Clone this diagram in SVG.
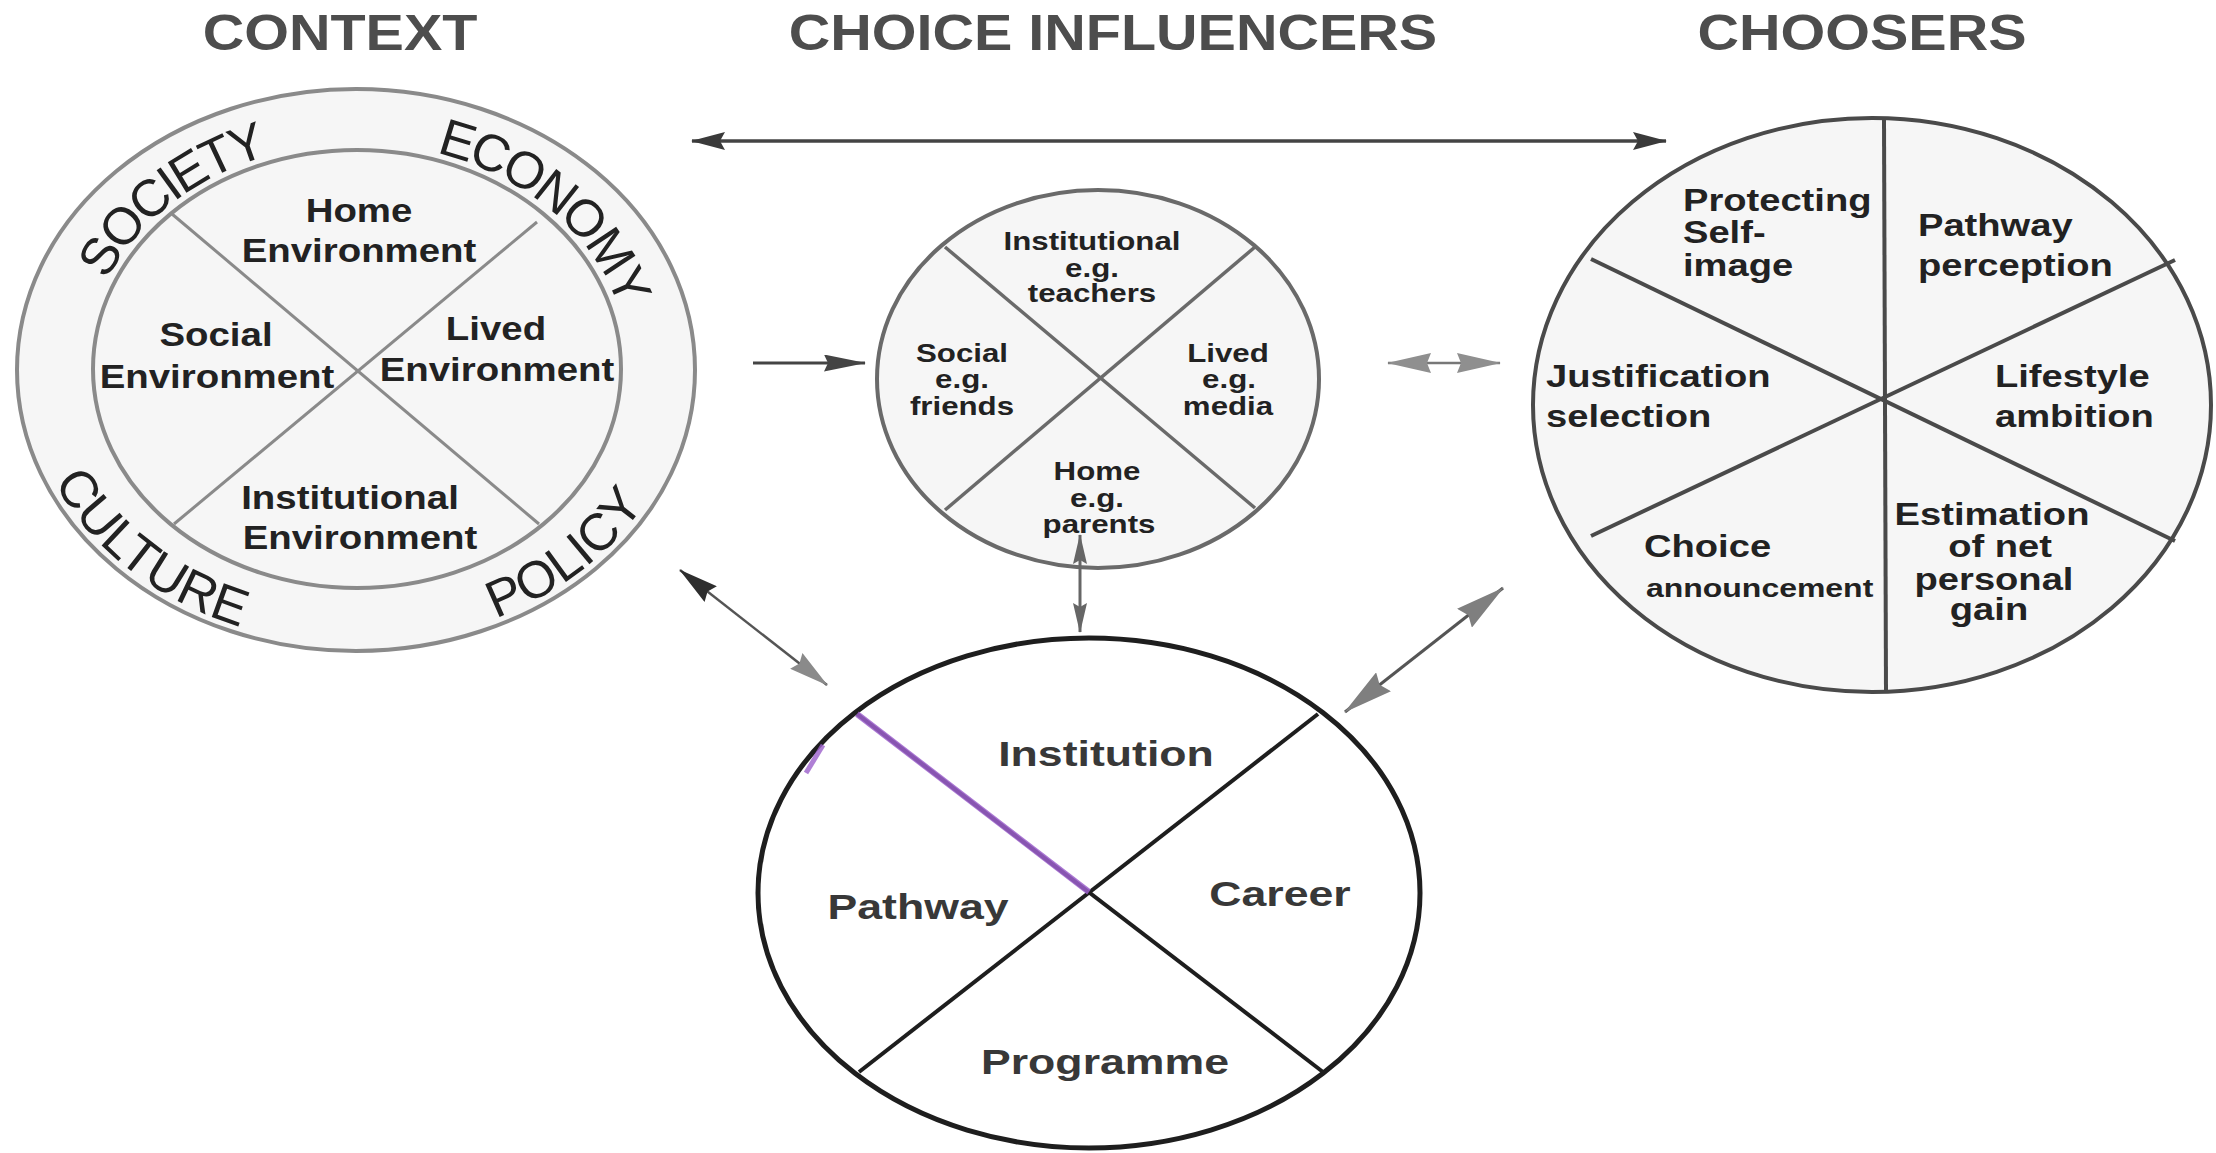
<svg xmlns="http://www.w3.org/2000/svg" width="2216" height="1153" viewBox="0 0 2216 1153">
<style>
text{font-family:"Liberation Sans",Arial,sans-serif;font-weight:bold;}
.ttl{font-size:50px;fill:#4d4d4d;text-anchor:middle;}
.cx{font-size:34px;fill:#222;text-anchor:middle;}
.ring{font-size:52px;font-weight:normal;fill:#222;}
.rtop{letter-spacing:-3px;}
.mi{font-size:25px;fill:#222;text-anchor:middle;}
.ch{font-size:31px;fill:#222;}
.chm{font-size:31px;fill:#222;text-anchor:middle;}
.lo{font-size:36px;fill:#383838;text-anchor:middle;}
.cline{stroke:#8a8a8a;stroke-width:3;fill:none;}
.mline{stroke:#6a6a6a;stroke-width:3.5;fill:none;}
.hline{stroke:#4a4a4a;stroke-width:4;fill:none;}
.lline{stroke:#1e1e1e;stroke-width:4;fill:none;}
.conn{fill:none;}
</style>
<defs>
<marker id="ad" markerUnits="userSpaceOnUse" viewBox="0 0 34 18" markerWidth="34" markerHeight="18" refX="33" refY="9" orient="auto-start-reverse"><path d="M0,0 L34,9 L0,18 L5,9 z" fill="#3a3a3a"/></marker>
<marker id="am" markerUnits="userSpaceOnUse" viewBox="0 0 42 17" markerWidth="42" markerHeight="17" refX="41" refY="8.5" orient="auto-start-reverse"><path d="M0,0 L42,8.5 L0,17 L4,8.5 z" fill="#444"/></marker>
<marker id="al" markerUnits="userSpaceOnUse" viewBox="0 0 44 20" markerWidth="44" markerHeight="20" refX="43" refY="10" orient="auto-start-reverse"><path d="M0,0 L44,10 L0,20 L4,10 z" fill="#8f8f8f"/></marker>
<marker id="as" markerUnits="userSpaceOnUse" viewBox="0 0 30 14" markerWidth="30" markerHeight="14" refX="29" refY="7" orient="auto-start-reverse"><path d="M0,0 L30,7 L0,14 L4,7 z" fill="#666"/></marker>
<marker id="adk" markerUnits="userSpaceOnUse" viewBox="0 0 40 20" markerWidth="40" markerHeight="20" refX="39" refY="10" orient="auto-start-reverse"><path d="M0,0 L40,10 L0,20 L4,10 z" fill="#2e2e2e"/></marker>
<marker id="alg" markerUnits="userSpaceOnUse" viewBox="0 0 40 20" markerWidth="40" markerHeight="20" refX="39" refY="10" orient="auto-start-reverse"><path d="M0,0 L40,10 L0,20 L4,10 z" fill="#8a8a8a"/></marker>
<marker id="ab" markerUnits="userSpaceOnUse" viewBox="0 0 50 24" markerWidth="50" markerHeight="24" refX="49" refY="12" orient="auto-start-reverse"><path d="M0,0 L50,12 L0,24 L5,12 z" fill="#7f7f7f"/></marker>
<path id="pSoc" d="M85 369 A272 226 0 0 1 357 143"/>
<path id="pEco" d="M357 143 A272 226 0 0 1 629 369"/>
<path id="pCul" d="M25 370 A331 274 0 0 0 356 644"/>
<path id="pPol" d="M356 644 A331 274 0 0 0 687 370"/>
</defs>
<rect width="2216" height="1153" fill="#fff"/>

<g id="titles">
<text class="ttl" transform="matrix(1.15 0 0 1 340 50)">CONTEXT</text>
<text class="ttl" transform="matrix(1.15 0 0 1 1113 50)">CHOICE INFLUENCERS</text>
<text class="ttl" transform="matrix(1.15 0 0 1 1862 50)">CHOOSERS</text>
</g>

<g id="context">
<ellipse cx="356" cy="370" rx="339" ry="281" fill="#f6f6f6" stroke="#8a8a8a" stroke-width="4"/>
<ellipse cx="357" cy="369" rx="264" ry="219" fill="#f6f6f6" stroke="#8a8a8a" stroke-width="4"/>
<line class="cline" x1="172" y1="214" x2="539" y2="524"/>
<line class="cline" x1="537" y1="222" x2="174" y2="524"/>
<text class="ring rtop"><textPath href="#pSoc" startOffset="50%" text-anchor="middle">SOCIETY</textPath></text>
<text class="ring rtop"><textPath href="#pEco" startOffset="52%" text-anchor="middle">ECONOMY</textPath></text>
<text class="ring"><textPath href="#pCul" startOffset="50%" text-anchor="middle">CULTURE</textPath></text>
<text class="ring"><textPath href="#pPol" startOffset="50%" text-anchor="middle">POLICY</textPath></text>
<text class="cx" transform="matrix(1.13 0 0 1 359 222)">Home</text>
<text class="cx" transform="matrix(1.13 0 0 1 359 262)">Environment</text>
<text class="cx" transform="matrix(1.13 0 0 1 216 346)">Social</text>
<text class="cx" transform="matrix(1.13 0 0 1 217 388)">Environment</text>
<text class="cx" transform="matrix(1.13 0 0 1 496 340)">Lived</text>
<text class="cx" transform="matrix(1.13 0 0 1 497 381)">Environment</text>
<text class="cx" transform="matrix(1.13 0 0 1 350 509)">Institutional</text>
<text class="cx" transform="matrix(1.13 0 0 1 360 549)">Environment</text>
</g>

<g id="influencers">
<ellipse cx="1098" cy="379" rx="221" ry="189" fill="#f6f6f6" stroke="#6a6a6a" stroke-width="4"/>
<line class="mline" x1="945" y1="247" x2="1255" y2="508"/>
<line class="mline" x1="1255" y1="247" x2="945" y2="510"/>
<text class="mi" transform="matrix(1.25 0 0 1 1092 250)">Institutional</text>
<text class="mi" transform="matrix(1.25 0 0 1 1092 277)">e.g.</text>
<text class="mi" transform="matrix(1.25 0 0 1 1092 302)">teachers</text>
<text class="mi" transform="matrix(1.25 0 0 1 962 362)">Social</text>
<text class="mi" transform="matrix(1.25 0 0 1 962 388)">e.g.</text>
<text class="mi" transform="matrix(1.25 0 0 1 962 415)">friends</text>
<text class="mi" transform="matrix(1.25 0 0 1 1228 362)">Lived</text>
<text class="mi" transform="matrix(1.25 0 0 1 1229 388)">e.g.</text>
<text class="mi" transform="matrix(1.25 0 0 1 1228 415)">media</text>
<text class="mi" transform="matrix(1.25 0 0 1 1097 480)">Home</text>
<text class="mi" transform="matrix(1.25 0 0 1 1097 507)">e.g.</text>
<text class="mi" transform="matrix(1.25 0 0 1 1099 533)">parents</text>
</g>

<g id="choosers">
<ellipse cx="1872" cy="405" rx="339" ry="287" fill="#f6f6f6" stroke="#4a4a4a" stroke-width="4"/>
<line class="hline" x1="1884" y1="119" x2="1886" y2="692"/>
<line class="hline" x1="1591" y1="259" x2="2175" y2="541"/>
<line class="hline" x1="2175" y1="260" x2="1591" y2="536"/>
<text class="ch" transform="matrix(1.23 0 0 1 1683 211)">Protecting</text>
<text class="ch" transform="matrix(1.23 0 0 1 1683 243)">Self-</text>
<text class="ch" transform="matrix(1.23 0 0 1 1683 276)">image</text>
<text class="ch" transform="matrix(1.23 0 0 1 1918 236)">Pathway</text>
<text class="ch" transform="matrix(1.23 0 0 1 1918 276)">perception</text>
<text class="ch" transform="matrix(1.23 0 0 1 1546 387)">Justification</text>
<text class="ch" transform="matrix(1.23 0 0 1 1546 427)">selection</text>
<text class="ch" transform="matrix(1.23 0 0 1 1995 387)">Lifestyle</text>
<text class="ch" transform="matrix(1.23 0 0 1 1995 427)">ambition</text>
<text class="ch" transform="matrix(1.23 0 0 1 1644 557)">Choice</text>
<text class="ch" style="font-size:26px" transform="matrix(1.23 0 0 1 1646 597)">announcement</text>
<text class="chm" transform="matrix(1.23 0 0 1 1992 525)">Estimation</text>
<text class="chm" transform="matrix(1.23 0 0 1 2000 557)">of net</text>
<text class="chm" transform="matrix(1.23 0 0 1 1994 590)">personal</text>
<text class="chm" transform="matrix(1.23 0 0 1 1989 620)">gain</text>
</g>

<g id="choice">
<ellipse cx="1089" cy="893" rx="331" ry="255" fill="#fff" stroke="#1e1e1e" stroke-width="5"/>
<line class="lline" x1="857" y1="714" x2="1323" y2="1072"/>
<line class="lline" x1="1318" y1="714" x2="859" y2="1072"/>
<line x1="857" y1="714" x2="1089" y2="892" stroke="#9b5fcb" stroke-width="6" stroke-opacity="0.85"/>
<line x1="806" y1="773" x2="823" y2="745" stroke="#9b5fcb" stroke-width="5" stroke-opacity="0.8"/>
<text class="lo" transform="matrix(1.24 0 0 1 1106 766)">Institution</text>
<text class="lo" transform="matrix(1.24 0 0 1 918 919)">Pathway</text>
<text class="lo" transform="matrix(1.24 0 0 1 1280 906)">Career</text>
<text class="lo" transform="matrix(1.24 0 0 1 1105 1074)">Programme</text>
</g>

<g id="connectors" class="conn">
<line x1="692" y1="141" x2="1666" y2="141" stroke="#444" stroke-width="3.5" marker-start="url(#ad)" marker-end="url(#ad)"/>
<line x1="753" y1="363" x2="865" y2="363" stroke="#444" stroke-width="3" marker-end="url(#am)"/>
<line x1="1388" y1="363" x2="1500" y2="363" stroke="#777" stroke-width="2.5" marker-start="url(#al)" marker-end="url(#al)"/>
<line x1="1080" y1="535" x2="1080" y2="632" stroke="#666" stroke-width="3" marker-start="url(#as)" marker-end="url(#as)"/>
<line x1="680" y1="570" x2="827" y2="685" stroke="#555" stroke-width="2.5" marker-start="url(#adk)" marker-end="url(#alg)"/>
<line x1="1503" y1="588" x2="1345" y2="712" stroke="#555" stroke-width="3" marker-start="url(#ab)" marker-end="url(#ab)"/>
</g>
</svg>
